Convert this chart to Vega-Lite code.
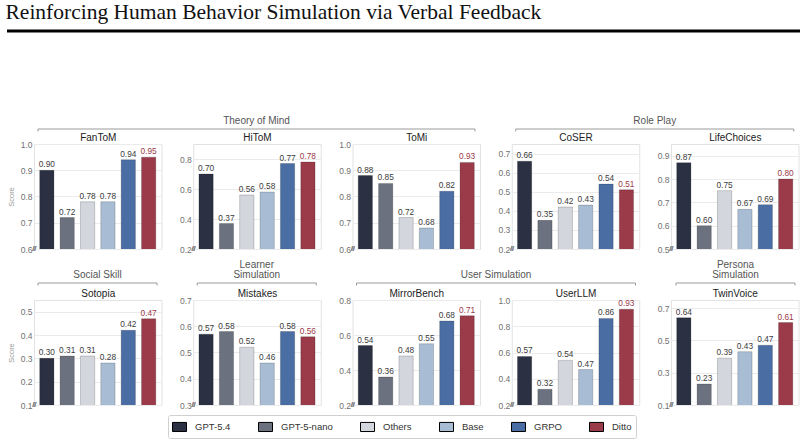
{
  "$schema": "https://vega.github.io/schema/vega-lite/v6.json",
  "padding": {"left": 5, "top": 2, "right": 4, "bottom": 2},
  "background": "white",
  "datasets": {
    "scores": [
      {"task": "FanToM", "model": "GPT-5.4", "score": 0.90},
      {"task": "FanToM", "model": "GPT-5-nano", "score": 0.72},
      {"task": "FanToM", "model": "Others", "score": 0.78},
      {"task": "FanToM", "model": "Base", "score": 0.78},
      {"task": "FanToM", "model": "GRPO", "score": 0.94},
      {"task": "FanToM", "model": "Ditto", "score": 0.95},
      {"task": "HiToM", "model": "GPT-5.4", "score": 0.70},
      {"task": "HiToM", "model": "GPT-5-nano", "score": 0.37},
      {"task": "HiToM", "model": "Others", "score": 0.56},
      {"task": "HiToM", "model": "Base", "score": 0.58},
      {"task": "HiToM", "model": "GRPO", "score": 0.77},
      {"task": "HiToM", "model": "Ditto", "score": 0.78},
      {"task": "ToMi", "model": "GPT-5.4", "score": 0.88},
      {"task": "ToMi", "model": "GPT-5-nano", "score": 0.85},
      {"task": "ToMi", "model": "Others", "score": 0.72},
      {"task": "ToMi", "model": "Base", "score": 0.68},
      {"task": "ToMi", "model": "GRPO", "score": 0.82},
      {"task": "ToMi", "model": "Ditto", "score": 0.93},
      {"task": "CoSER", "model": "GPT-5.4", "score": 0.66},
      {"task": "CoSER", "model": "GPT-5-nano", "score": 0.35},
      {"task": "CoSER", "model": "Others", "score": 0.42},
      {"task": "CoSER", "model": "Base", "score": 0.43},
      {"task": "CoSER", "model": "GRPO", "score": 0.54},
      {"task": "CoSER", "model": "Ditto", "score": 0.51},
      {"task": "LifeChoices", "model": "GPT-5.4", "score": 0.87},
      {"task": "LifeChoices", "model": "GPT-5-nano", "score": 0.60},
      {"task": "LifeChoices", "model": "Others", "score": 0.75},
      {"task": "LifeChoices", "model": "Base", "score": 0.67},
      {"task": "LifeChoices", "model": "GRPO", "score": 0.69},
      {"task": "LifeChoices", "model": "Ditto", "score": 0.80},
      {"task": "Sotopia", "model": "GPT-5.4", "score": 0.30},
      {"task": "Sotopia", "model": "GPT-5-nano", "score": 0.31},
      {"task": "Sotopia", "model": "Others", "score": 0.31},
      {"task": "Sotopia", "model": "Base", "score": 0.28},
      {"task": "Sotopia", "model": "GRPO", "score": 0.42},
      {"task": "Sotopia", "model": "Ditto", "score": 0.47},
      {"task": "Mistakes", "model": "GPT-5.4", "score": 0.57},
      {"task": "Mistakes", "model": "GPT-5-nano", "score": 0.58},
      {"task": "Mistakes", "model": "Others", "score": 0.52},
      {"task": "Mistakes", "model": "Base", "score": 0.46},
      {"task": "Mistakes", "model": "GRPO", "score": 0.58},
      {"task": "Mistakes", "model": "Ditto", "score": 0.56},
      {"task": "MirrorBench", "model": "GPT-5.4", "score": 0.54},
      {"task": "MirrorBench", "model": "GPT-5-nano", "score": 0.36},
      {"task": "MirrorBench", "model": "Others", "score": 0.48},
      {"task": "MirrorBench", "model": "Base", "score": 0.55},
      {"task": "MirrorBench", "model": "GRPO", "score": 0.68},
      {"task": "MirrorBench", "model": "Ditto", "score": 0.71},
      {"task": "UserLLM", "model": "GPT-5.4", "score": 0.57},
      {"task": "UserLLM", "model": "GPT-5-nano", "score": 0.32},
      {"task": "UserLLM", "model": "Others", "score": 0.54},
      {"task": "UserLLM", "model": "Base", "score": 0.47},
      {"task": "UserLLM", "model": "GRPO", "score": 0.86},
      {"task": "UserLLM", "model": "Ditto", "score": 0.93},
      {"task": "TwinVoice", "model": "GPT-5.4", "score": 0.64},
      {"task": "TwinVoice", "model": "GPT-5-nano", "score": 0.23},
      {"task": "TwinVoice", "model": "Others", "score": 0.39},
      {"task": "TwinVoice", "model": "Base", "score": 0.43},
      {"task": "TwinVoice", "model": "GRPO", "score": 0.47},
      {"task": "TwinVoice", "model": "Ditto", "score": 0.61}
    ]
  },
  "data": {"name": "scores"},
  "spacing": 5,
  "vconcat": [
    {
      "width": 700,
      "height": 79,
      "view": {"stroke": null},
      "data": {"values": [{}]},
      "title": {"text": "Reinforcing Human Behavior Simulation via Verbal Feedback", "anchor": "start", "font": "Liberation Serif", "fontSize": 21.5, "fontWeight": "normal", "color": "#111111", "offset": 6},
      "mark": {"type": "rule", "color": "#000000", "strokeWidth": 3},
      "encoding": {
        "x": {"datum": 0, "type": "quantitative", "scale": {"domain": [0, 1], "range": [-27, 766]}, "axis": null},
        "x2": {"datum": 1},
        "y": {"datum": 1, "type": "quantitative", "scale": {"domain": [0, 1]}, "axis": null}
      }
    },
    {
      "hconcat": [
        {
          "width": 127.5, "height": 105,
          "layer": [
            {
              "transform": [{"filter": "datum.task === 'FanToM'"}],
              "encoding": {
                "x": {"field": "model", "type": "nominal", "sort": ["GPT-5.4", "GPT-5-nano", "Others", "Base", "GRPO", "Ditto"], "scale": {"paddingInner": 0.3, "paddingOuter": 0.28}, "axis": {"orient": "top", "title": "FanToM", "titleFontWeight": "normal", "labels": false, "ticks": false, "domain": false, "grid": false}},
                "y": {"field": "score", "type": "quantitative", "scale": {"domain": [0.6, 1.0], "nice": false, "zero": false}, "axis": {"values": [0.6, 0.7, 0.8, 0.9, 1.0], "title": "Score"}}
              },
              "layer": [
                {"mark": {"type": "bar", "clip": true, "stroke": "#000000", "strokeOpacity": 0.18, "strokeWidth": 1}, "encoding": {"color": {"field": "model", "type": "nominal", "title": null, "scale": {"domain": ["GPT-5.4", "GPT-5-nano", "Others", "Base", "GRPO", "Ditto"], "range": ["#2b3142", "#6b717e", "#d3d6dd", "#a8bdd4", "#4a6da4", "#9b3a48"]}}}},
                {"mark": {"type": "text", "baseline": "alphabetic", "dy": -3, "fontSize": 8.3}, "encoding": {"text": {"field": "score", "type": "quantitative", "format": ".2f"}, "color": {"condition": {"test": "datum.model === 'Ditto'", "value": "#9b3a48"}, "value": "#3b3b3b"}}},
                {"mark": {"type": "text", "text": "//", "fontSize": 7, "color": "#8a8a8a", "baseline": "middle", "align": "center", "dx": -12.5}, "encoding": {"x": {"datum": "GPT-5.4"}, "y": {"datum": 0.6}}}
              ]
            },
            {
              "data": {"values": [{"group": "Theory of Mind"}]},
              "encoding": {
                "x": {"datum": 0, "type": "quantitative", "scale": {"domain": [0, 1], "range": [4, 441]}, "axis": null},
                "y": {"datum": 1, "type": "quantitative", "scale": {"domain": [0, 1], "range": [-12.5, -15]}, "axis": null}
              },
              "layer": [
                {"mark": {"type": "rule", "color": "#9a9a9a", "strokeWidth": 1}, "encoding": {"x2": {"datum": 1}}},
                {"mark": {"type": "rule", "color": "#9a9a9a", "strokeWidth": 1}, "encoding": {"y2": {"datum": 0}}},
                {"mark": {"type": "rule", "color": "#9a9a9a", "strokeWidth": 1}, "encoding": {"x": {"datum": 1, "type": "quantitative"}, "y2": {"datum": 0}}},
                {"mark": {"type": "text", "baseline": "bottom", "dy": -3.5, "fontSize": 10, "color": "#555555"}, "encoding": {"x": {"datum": 0.5, "type": "quantitative"}, "text": {"field": "group"}}}
              ]
            }
          ],
          "resolve": {"scale": {"x": "independent", "y": "independent"}}
        },
        {
          "width": 127.5, "height": 105,
          "transform": [{"filter": "datum.task === 'HiToM'"}],
          "encoding": {
            "x": {"field": "model", "type": "nominal", "sort": ["GPT-5.4", "GPT-5-nano", "Others", "Base", "GRPO", "Ditto"], "scale": {"paddingInner": 0.3, "paddingOuter": 0.28}, "axis": {"orient": "top", "title": "HiToM", "titleFontWeight": "normal", "labels": false, "ticks": false, "domain": false, "grid": false}},
            "y": {"field": "score", "type": "quantitative", "scale": {"domain": [0.2, 0.9], "nice": false, "zero": false}, "axis": {"values": [0.2, 0.4, 0.6, 0.8], "title": null}}
          },
          "layer": [
            {"mark": {"type": "bar", "clip": true, "stroke": "#000000", "strokeOpacity": 0.18, "strokeWidth": 1}, "encoding": {"color": {"field": "model", "type": "nominal", "title": null, "scale": {"domain": ["GPT-5.4", "GPT-5-nano", "Others", "Base", "GRPO", "Ditto"], "range": ["#2b3142", "#6b717e", "#d3d6dd", "#a8bdd4", "#4a6da4", "#9b3a48"]}}}},
            {"mark": {"type": "text", "baseline": "alphabetic", "dy": -3, "fontSize": 8.3}, "encoding": {"text": {"field": "score", "type": "quantitative", "format": ".2f"}, "color": {"condition": {"test": "datum.model === 'Ditto'", "value": "#9b3a48"}, "value": "#3b3b3b"}}},
            {"mark": {"type": "text", "text": "//", "fontSize": 7, "color": "#8a8a8a", "baseline": "middle", "align": "center", "dx": -12.5}, "encoding": {"x": {"datum": "GPT-5.4"}, "y": {"datum": 0.2}}}
          ]
        },
        {
          "width": 127.5, "height": 105,
          "transform": [{"filter": "datum.task === 'ToMi'"}],
          "encoding": {
            "x": {"field": "model", "type": "nominal", "sort": ["GPT-5.4", "GPT-5-nano", "Others", "Base", "GRPO", "Ditto"], "scale": {"paddingInner": 0.3, "paddingOuter": 0.28}, "axis": {"orient": "top", "title": "ToMi", "titleFontWeight": "normal", "labels": false, "ticks": false, "domain": false, "grid": false}},
            "y": {"field": "score", "type": "quantitative", "scale": {"domain": [0.6, 1.0], "nice": false, "zero": false}, "axis": {"values": [0.6, 0.7, 0.8, 0.9, 1.0], "title": null}}
          },
          "layer": [
            {"mark": {"type": "bar", "clip": true, "stroke": "#000000", "strokeOpacity": 0.18, "strokeWidth": 1}, "encoding": {"color": {"field": "model", "type": "nominal", "title": null, "scale": {"domain": ["GPT-5.4", "GPT-5-nano", "Others", "Base", "GRPO", "Ditto"], "range": ["#2b3142", "#6b717e", "#d3d6dd", "#a8bdd4", "#4a6da4", "#9b3a48"]}}}},
            {"mark": {"type": "text", "baseline": "alphabetic", "dy": -3, "fontSize": 8.3}, "encoding": {"text": {"field": "score", "type": "quantitative", "format": ".2f"}, "color": {"condition": {"test": "datum.model === 'Ditto'", "value": "#9b3a48"}, "value": "#3b3b3b"}}},
            {"mark": {"type": "text", "text": "//", "fontSize": 7, "color": "#8a8a8a", "baseline": "middle", "align": "center", "dx": -12.5}, "encoding": {"x": {"datum": "GPT-5.4"}, "y": {"datum": 0.6}}}
          ]
        },
        {
          "width": 127.5, "height": 105,
          "layer": [
            {
              "transform": [{"filter": "datum.task === 'CoSER'"}],
              "encoding": {
                "x": {"field": "model", "type": "nominal", "sort": ["GPT-5.4", "GPT-5-nano", "Others", "Base", "GRPO", "Ditto"], "scale": {"paddingInner": 0.3, "paddingOuter": 0.28}, "axis": {"orient": "top", "title": "CoSER", "titleFontWeight": "normal", "labels": false, "ticks": false, "domain": false, "grid": false}},
                "y": {"field": "score", "type": "quantitative", "scale": {"domain": [0.2, 0.75], "nice": false, "zero": false}, "axis": {"values": [0.2, 0.3, 0.4, 0.5, 0.6, 0.7], "title": null}}
              },
              "layer": [
                {"mark": {"type": "bar", "clip": true, "stroke": "#000000", "strokeOpacity": 0.18, "strokeWidth": 1}, "encoding": {"color": {"field": "model", "type": "nominal", "title": null, "scale": {"domain": ["GPT-5.4", "GPT-5-nano", "Others", "Base", "GRPO", "Ditto"], "range": ["#2b3142", "#6b717e", "#d3d6dd", "#a8bdd4", "#4a6da4", "#9b3a48"]}}}},
                {"mark": {"type": "text", "baseline": "alphabetic", "dy": -3, "fontSize": 8.3}, "encoding": {"text": {"field": "score", "type": "quantitative", "format": ".2f"}, "color": {"condition": {"test": "datum.model === 'Ditto'", "value": "#9b3a48"}, "value": "#3b3b3b"}}},
                {"mark": {"type": "text", "text": "//", "fontSize": 7, "color": "#8a8a8a", "baseline": "middle", "align": "center", "dx": -12.5}, "encoding": {"x": {"datum": "GPT-5.4"}, "y": {"datum": 0.2}}}
              ]
            },
            {
              "data": {"values": [{"group": "Role Play"}]},
              "encoding": {
                "x": {"datum": 0, "type": "quantitative", "scale": {"domain": [0, 1], "range": [4, 282]}, "axis": null},
                "y": {"datum": 1, "type": "quantitative", "scale": {"domain": [0, 1], "range": [-12.5, -15]}, "axis": null}
              },
              "layer": [
                {"mark": {"type": "rule", "color": "#9a9a9a", "strokeWidth": 1}, "encoding": {"x2": {"datum": 1}}},
                {"mark": {"type": "rule", "color": "#9a9a9a", "strokeWidth": 1}, "encoding": {"y2": {"datum": 0}}},
                {"mark": {"type": "rule", "color": "#9a9a9a", "strokeWidth": 1}, "encoding": {"x": {"datum": 1, "type": "quantitative"}, "y2": {"datum": 0}}},
                {"mark": {"type": "text", "baseline": "bottom", "dy": -3.5, "fontSize": 10, "color": "#555555"}, "encoding": {"x": {"datum": 0.5, "type": "quantitative"}, "text": {"field": "group"}}}
              ]
            }
          ],
          "resolve": {"scale": {"x": "independent", "y": "independent"}}
        },
        {
          "width": 127.5, "height": 105,
          "transform": [{"filter": "datum.task === 'LifeChoices'"}],
          "encoding": {
            "x": {"field": "model", "type": "nominal", "sort": ["GPT-5.4", "GPT-5-nano", "Others", "Base", "GRPO", "Ditto"], "scale": {"paddingInner": 0.3, "paddingOuter": 0.28}, "axis": {"orient": "top", "title": "LifeChoices", "titleFontWeight": "normal", "labels": false, "ticks": false, "domain": false, "grid": false}},
            "y": {"field": "score", "type": "quantitative", "scale": {"domain": [0.5, 0.95], "nice": false, "zero": false}, "axis": {"values": [0.5, 0.6, 0.7, 0.8, 0.9], "title": null}}
          },
          "layer": [
            {"mark": {"type": "bar", "clip": true, "stroke": "#000000", "strokeOpacity": 0.18, "strokeWidth": 1}, "encoding": {"color": {"field": "model", "type": "nominal", "title": null, "scale": {"domain": ["GPT-5.4", "GPT-5-nano", "Others", "Base", "GRPO", "Ditto"], "range": ["#2b3142", "#6b717e", "#d3d6dd", "#a8bdd4", "#4a6da4", "#9b3a48"]}}}},
            {"mark": {"type": "text", "baseline": "alphabetic", "dy": -3, "fontSize": 8.3}, "encoding": {"text": {"field": "score", "type": "quantitative", "format": ".2f"}, "color": {"condition": {"test": "datum.model === 'Ditto'", "value": "#9b3a48"}, "value": "#3b3b3b"}}},
            {"mark": {"type": "text", "text": "//", "fontSize": 7, "color": "#8a8a8a", "baseline": "middle", "align": "center", "dx": -12.5}, "encoding": {"x": {"datum": "GPT-5.4"}, "y": {"datum": 0.5}}}
          ]
        }
      ],
      "spacing": 31.25,
      "bounds": "flush"
    },
    {
      "hconcat": [
        {
          "width": 127.5, "height": 105,
          "layer": [
            {
              "transform": [{"filter": "datum.task === 'Sotopia'"}],
              "encoding": {
                "x": {"field": "model", "type": "nominal", "sort": ["GPT-5.4", "GPT-5-nano", "Others", "Base", "GRPO", "Ditto"], "scale": {"paddingInner": 0.3, "paddingOuter": 0.28}, "axis": {"orient": "top", "title": "Sotopia", "titleFontWeight": "normal", "labels": false, "ticks": false, "domain": false, "grid": false}},
                "y": {"field": "score", "type": "quantitative", "scale": {"domain": [0.1, 0.55], "nice": false, "zero": false}, "axis": {"values": [0.1, 0.2, 0.3, 0.4, 0.5], "title": "Score"}}
              },
              "layer": [
                {"mark": {"type": "bar", "clip": true, "stroke": "#000000", "strokeOpacity": 0.18, "strokeWidth": 1}, "encoding": {"color": {"field": "model", "type": "nominal", "title": null, "scale": {"domain": ["GPT-5.4", "GPT-5-nano", "Others", "Base", "GRPO", "Ditto"], "range": ["#2b3142", "#6b717e", "#d3d6dd", "#a8bdd4", "#4a6da4", "#9b3a48"]}}}},
                {"mark": {"type": "text", "baseline": "alphabetic", "dy": -3, "fontSize": 8.3}, "encoding": {"text": {"field": "score", "type": "quantitative", "format": ".2f"}, "color": {"condition": {"test": "datum.model === 'Ditto'", "value": "#9b3a48"}, "value": "#3b3b3b"}}},
                {"mark": {"type": "text", "text": "//", "fontSize": 7, "color": "#8a8a8a", "baseline": "middle", "align": "center", "dx": -12.5}, "encoding": {"x": {"datum": "GPT-5.4"}, "y": {"datum": 0.1}}}
              ]
            },
            {
              "data": {"values": [{"group": "Social Skill"}]},
              "encoding": {
                "x": {"datum": 0, "type": "quantitative", "scale": {"domain": [0, 1], "range": [4, 123]}, "axis": null},
                "y": {"datum": 1, "type": "quantitative", "scale": {"domain": [0, 1], "range": [-14.5, -17]}, "axis": null}
              },
              "layer": [
                {"mark": {"type": "rule", "color": "#9a9a9a", "strokeWidth": 1}, "encoding": {"x2": {"datum": 1}}},
                {"mark": {"type": "rule", "color": "#9a9a9a", "strokeWidth": 1}, "encoding": {"y2": {"datum": 0}}},
                {"mark": {"type": "rule", "color": "#9a9a9a", "strokeWidth": 1}, "encoding": {"x": {"datum": 1, "type": "quantitative"}, "y2": {"datum": 0}}},
                {"mark": {"type": "text", "baseline": "bottom", "dy": -3.5, "fontSize": 10, "color": "#555555"}, "encoding": {"x": {"datum": 0.5, "type": "quantitative"}, "text": {"field": "group"}}}
              ]
            }
          ],
          "resolve": {"scale": {"x": "independent", "y": "independent"}}
        },
        {
          "width": 127.5, "height": 105,
          "layer": [
            {
              "transform": [{"filter": "datum.task === 'Mistakes'"}],
              "encoding": {
                "x": {"field": "model", "type": "nominal", "sort": ["GPT-5.4", "GPT-5-nano", "Others", "Base", "GRPO", "Ditto"], "scale": {"paddingInner": 0.3, "paddingOuter": 0.28}, "axis": {"orient": "top", "title": "Mistakes", "titleFontWeight": "normal", "labels": false, "ticks": false, "domain": false, "grid": false}},
                "y": {"field": "score", "type": "quantitative", "scale": {"domain": [0.3, 0.7], "nice": false, "zero": false}, "axis": {"values": [0.3, 0.4, 0.5, 0.6, 0.7], "title": null}}
              },
              "layer": [
                {"mark": {"type": "bar", "clip": true, "stroke": "#000000", "strokeOpacity": 0.18, "strokeWidth": 1}, "encoding": {"color": {"field": "model", "type": "nominal", "title": null, "scale": {"domain": ["GPT-5.4", "GPT-5-nano", "Others", "Base", "GRPO", "Ditto"], "range": ["#2b3142", "#6b717e", "#d3d6dd", "#a8bdd4", "#4a6da4", "#9b3a48"]}}}},
                {"mark": {"type": "text", "baseline": "alphabetic", "dy": -3, "fontSize": 8.3}, "encoding": {"text": {"field": "score", "type": "quantitative", "format": ".2f"}, "color": {"condition": {"test": "datum.model === 'Ditto'", "value": "#9b3a48"}, "value": "#3b3b3b"}}},
                {"mark": {"type": "text", "text": "//", "fontSize": 7, "color": "#8a8a8a", "baseline": "middle", "align": "center", "dx": -12.5}, "encoding": {"x": {"datum": "GPT-5.4"}, "y": {"datum": 0.3}}}
              ]
            },
            {
              "data": {"values": [{"group": "Learner\nSimulation"}]},
              "encoding": {
                "x": {"datum": 0, "type": "quantitative", "scale": {"domain": [0, 1], "range": [4, 123]}, "axis": null},
                "y": {"datum": 1, "type": "quantitative", "scale": {"domain": [0, 1], "range": [-14.5, -17]}, "axis": null}
              },
              "layer": [
                {"mark": {"type": "rule", "color": "#9a9a9a", "strokeWidth": 1}, "encoding": {"x2": {"datum": 1}}},
                {"mark": {"type": "rule", "color": "#9a9a9a", "strokeWidth": 1}, "encoding": {"y2": {"datum": 0}}},
                {"mark": {"type": "rule", "color": "#9a9a9a", "strokeWidth": 1}, "encoding": {"x": {"datum": 1, "type": "quantitative"}, "y2": {"datum": 0}}},
                {"mark": {"type": "text", "baseline": "bottom", "dy": -13, "fontSize": 10, "color": "#555555", "lineBreak": "\n", "lineHeight": 9.5}, "encoding": {"x": {"datum": 0.5, "type": "quantitative"}, "text": {"field": "group"}}}
              ]
            }
          ],
          "resolve": {"scale": {"x": "independent", "y": "independent"}}
        },
        {
          "width": 127.5, "height": 105,
          "layer": [
            {
              "transform": [{"filter": "datum.task === 'MirrorBench'"}],
              "encoding": {
                "x": {"field": "model", "type": "nominal", "sort": ["GPT-5.4", "GPT-5-nano", "Others", "Base", "GRPO", "Ditto"], "scale": {"paddingInner": 0.3, "paddingOuter": 0.28}, "axis": {"orient": "top", "title": "MirrorBench", "titleFontWeight": "normal", "labels": false, "ticks": false, "domain": false, "grid": false}},
                "y": {"field": "score", "type": "quantitative", "scale": {"domain": [0.2, 0.8], "nice": false, "zero": false}, "axis": {"values": [0.2, 0.4, 0.6, 0.8], "title": null}}
              },
              "layer": [
                {"mark": {"type": "bar", "clip": true, "stroke": "#000000", "strokeOpacity": 0.18, "strokeWidth": 1}, "encoding": {"color": {"field": "model", "type": "nominal", "title": null, "scale": {"domain": ["GPT-5.4", "GPT-5-nano", "Others", "Base", "GRPO", "Ditto"], "range": ["#2b3142", "#6b717e", "#d3d6dd", "#a8bdd4", "#4a6da4", "#9b3a48"]}}}},
                {"mark": {"type": "text", "baseline": "alphabetic", "dy": -3, "fontSize": 8.3}, "encoding": {"text": {"field": "score", "type": "quantitative", "format": ".2f"}, "color": {"condition": {"test": "datum.model === 'Ditto'", "value": "#9b3a48"}, "value": "#3b3b3b"}}},
                {"mark": {"type": "text", "text": "//", "fontSize": 7, "color": "#8a8a8a", "baseline": "middle", "align": "center", "dx": -12.5}, "encoding": {"x": {"datum": "GPT-5.4"}, "y": {"datum": 0.2}}}
              ]
            },
            {
              "data": {"values": [{"group": "User Simulation"}]},
              "encoding": {
                "x": {"datum": 0, "type": "quantitative", "scale": {"domain": [0, 1], "range": [4, 283]}, "axis": null},
                "y": {"datum": 1, "type": "quantitative", "scale": {"domain": [0, 1], "range": [-14.5, -17]}, "axis": null}
              },
              "layer": [
                {"mark": {"type": "rule", "color": "#9a9a9a", "strokeWidth": 1}, "encoding": {"x2": {"datum": 1}}},
                {"mark": {"type": "rule", "color": "#9a9a9a", "strokeWidth": 1}, "encoding": {"y2": {"datum": 0}}},
                {"mark": {"type": "rule", "color": "#9a9a9a", "strokeWidth": 1}, "encoding": {"x": {"datum": 1, "type": "quantitative"}, "y2": {"datum": 0}}},
                {"mark": {"type": "text", "baseline": "bottom", "dy": -3.5, "fontSize": 10, "color": "#555555"}, "encoding": {"x": {"datum": 0.5, "type": "quantitative"}, "text": {"field": "group"}}}
              ]
            }
          ],
          "resolve": {"scale": {"x": "independent", "y": "independent"}}
        },
        {
          "width": 127.5, "height": 105,
          "transform": [{"filter": "datum.task === 'UserLLM'"}],
          "encoding": {
            "x": {"field": "model", "type": "nominal", "sort": ["GPT-5.4", "GPT-5-nano", "Others", "Base", "GRPO", "Ditto"], "scale": {"paddingInner": 0.3, "paddingOuter": 0.28}, "axis": {"orient": "top", "title": "UserLLM", "titleFontWeight": "normal", "labels": false, "ticks": false, "domain": false, "grid": false}},
            "y": {"field": "score", "type": "quantitative", "scale": {"domain": [0.2, 1.0], "nice": false, "zero": false}, "axis": {"values": [0.2, 0.4, 0.6, 0.8, 1.0], "title": null}}
          },
          "layer": [
            {"mark": {"type": "bar", "clip": true, "stroke": "#000000", "strokeOpacity": 0.18, "strokeWidth": 1}, "encoding": {"color": {"field": "model", "type": "nominal", "title": null, "scale": {"domain": ["GPT-5.4", "GPT-5-nano", "Others", "Base", "GRPO", "Ditto"], "range": ["#2b3142", "#6b717e", "#d3d6dd", "#a8bdd4", "#4a6da4", "#9b3a48"]}}}},
            {"mark": {"type": "text", "baseline": "alphabetic", "dy": -3, "fontSize": 8.3}, "encoding": {"text": {"field": "score", "type": "quantitative", "format": ".2f"}, "color": {"condition": {"test": "datum.model === 'Ditto'", "value": "#9b3a48"}, "value": "#3b3b3b"}}},
            {"mark": {"type": "text", "text": "//", "fontSize": 7, "color": "#8a8a8a", "baseline": "middle", "align": "center", "dx": -12.5}, "encoding": {"x": {"datum": "GPT-5.4"}, "y": {"datum": 0.2}}}
          ]
        },
        {
          "width": 127.5, "height": 105,
          "layer": [
            {
              "transform": [{"filter": "datum.task === 'TwinVoice'"}],
              "encoding": {
                "x": {"field": "model", "type": "nominal", "sort": ["GPT-5.4", "GPT-5-nano", "Others", "Base", "GRPO", "Ditto"], "scale": {"paddingInner": 0.3, "paddingOuter": 0.28}, "axis": {"orient": "top", "title": "TwinVoice", "titleFontWeight": "normal", "labels": false, "ticks": false, "domain": false, "grid": false}},
                "y": {"field": "score", "type": "quantitative", "scale": {"domain": [0.1, 0.75], "nice": false, "zero": false}, "axis": {"values": [0.1, 0.3, 0.5, 0.7], "title": null}}
              },
              "layer": [
                {"mark": {"type": "bar", "clip": true, "stroke": "#000000", "strokeOpacity": 0.18, "strokeWidth": 1}, "encoding": {"color": {"field": "model", "type": "nominal", "title": null, "scale": {"domain": ["GPT-5.4", "GPT-5-nano", "Others", "Base", "GRPO", "Ditto"], "range": ["#2b3142", "#6b717e", "#d3d6dd", "#a8bdd4", "#4a6da4", "#9b3a48"]}}}},
                {"mark": {"type": "text", "baseline": "alphabetic", "dy": -3, "fontSize": 8.3}, "encoding": {"text": {"field": "score", "type": "quantitative", "format": ".2f"}, "color": {"condition": {"test": "datum.model === 'Ditto'", "value": "#9b3a48"}, "value": "#3b3b3b"}}},
                {"mark": {"type": "text", "text": "//", "fontSize": 7, "color": "#8a8a8a", "baseline": "middle", "align": "center", "dx": -12.5}, "encoding": {"x": {"datum": "GPT-5.4"}, "y": {"datum": 0.1}}}
              ]
            },
            {
              "data": {"values": [{"group": "Persona\nSimulation"}]},
              "encoding": {
                "x": {"datum": 0, "type": "quantitative", "scale": {"domain": [0, 1], "range": [5, 124]}, "axis": null},
                "y": {"datum": 1, "type": "quantitative", "scale": {"domain": [0, 1], "range": [-14.5, -17]}, "axis": null}
              },
              "layer": [
                {"mark": {"type": "rule", "color": "#9a9a9a", "strokeWidth": 1}, "encoding": {"x2": {"datum": 1}}},
                {"mark": {"type": "rule", "color": "#9a9a9a", "strokeWidth": 1}, "encoding": {"y2": {"datum": 0}}},
                {"mark": {"type": "rule", "color": "#9a9a9a", "strokeWidth": 1}, "encoding": {"x": {"datum": 1, "type": "quantitative"}, "y2": {"datum": 0}}},
                {"mark": {"type": "text", "baseline": "bottom", "dy": -13, "fontSize": 10, "color": "#555555", "lineBreak": "\n", "lineHeight": 9.5}, "encoding": {"x": {"datum": 0.5, "type": "quantitative"}, "text": {"field": "group"}}}
              ]
            }
          ],
          "resolve": {"scale": {"x": "independent", "y": "independent"}}
        }
      ],
      "spacing": 31.25,
      "bounds": "flush"
    }
  ],
  "config": {
    "font": "Liberation Sans",
    "view": {"stroke": "#e2e2e2", "strokeWidth": 1},
    "axisY": {"labelFont": "Liberation Sans", "labelFontSize": 8.5, "labelColor": "#707070", "labelPadding": 2, "ticks": false, "tickSize": 0, "domain": false, "gridColor": "#ebebeb", "gridWidth": 1, "titleFont": "Liberation Sans", "titleFontSize": 7.5, "titleColor": "#9a9a9a", "titleFontWeight": "normal", "titlePadding": 5, "format": ".1f"},
    "axisX": {"titleFont": "Liberation Sans", "titleFontSize": 10, "titleFontWeight": "normal", "titleColor": "#222222", "titlePadding": 2, "tickSize": 0},
    "text": {"font": "Liberation Sans"},
    "legend": {"orient": "none", "legendX": 134, "legendY": 384, "direction": "horizontal", "strokeColor": "#d0d0d0", "fillColor": "#ffffff", "padding": 4, "cornerRadius": 2, "symbolType": "M-1,-0.65H1V0.65H-1Z", "symbolSize": 196, "symbolStrokeWidth": 1, "labelFont": "Liberation Sans", "labelFontSize": 9.5, "labelColor": "#333333", "labelOffset": 8, "columnPadding": 25}
  }
}
